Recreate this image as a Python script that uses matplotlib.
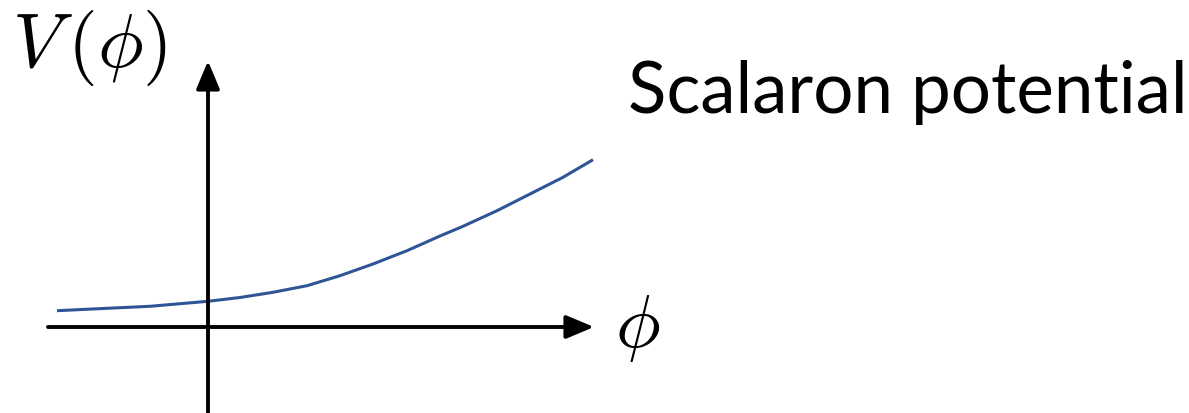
import matplotlib
matplotlib.use('Agg')
import matplotlib.pyplot as plt
import numpy as np

# Scalaron potential V(phi) (origin at axes crossing)
phi = [-151, -105, -58, 0, 32, 65, 99, 132, 165, 199, 232, 255, 289, 322, 355, 385]
V = [16.3, 18.5, 20.7, 25.7, 29.5, 34.7, 41.3, 51.3, 63, 76.3, 91, 100.7, 116.3, 133, 149.7, 167.3]

plt.rcParams['mathtext.fontset'] = 'cm'

fig = plt.figure(figsize=(11.89, 4.14), dpi=100)
ax = fig.add_axes([0, 0, 1, 1])
ax.set_xlim(-208, 981)
ax.set_ylim(-86, 328)
ax.axis('off')

# axes arrows
arrow = dict(arrowstyle='-|>,head_length=1.0,head_width=0.42', lw=2.8,
             color='black', mutation_scale=17, shrinkA=0, shrinkB=0)
ax.annotate('', xy=(386, 0), xytext=(-160, 0), arrowprops=arrow)
ax.annotate('', xy=(0, 266), xytext=(0, -86), arrowprops=arrow)

# potential curve
ax.plot(phi, V, color='#2F5597', lw=2.2, solid_capstyle='butt',
        solid_joinstyle='round')

ax.text(-196, 320, r'$V\,(\phi)$', fontsize=55, ha='left', va='top')
ax.text(407, 0, r'$\phi$', fontsize=54, ha='left', va='center')
ax.text(420, 215, 'Scalaron potential', fontsize=51, family='Lato',
        ha='left', va='baseline')

fig.savefig('out.png', dpi=100)
